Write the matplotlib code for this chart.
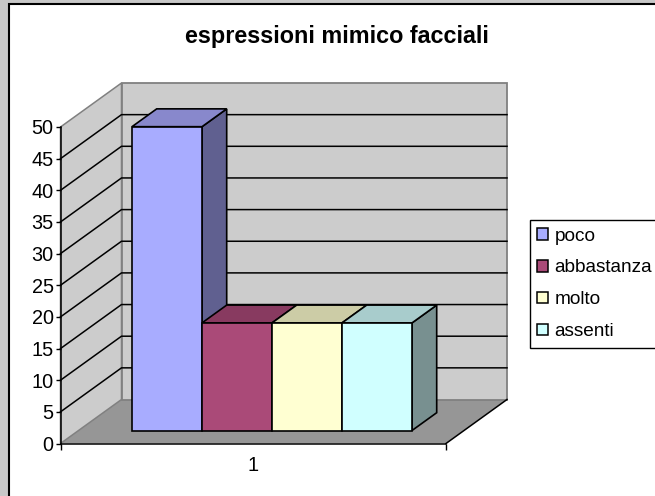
#!/usr/bin/python3
# 3D-look clustered column chart drawn on a plain 2D axes with a small oblique projection

import matplotlib
matplotlib.use('agg')
import matplotlib.pyplot as plt
from matplotlib.patches import Patch, Polygon, Rectangle

plt.rcParams['font.family'] = ['Liberation Sans', 'DejaVu Sans']

title = 'espressioni mimico facciali'
series = ['poco', 'abbastanza', 'molto', 'assenti']
values = [48, 17, 17, 17]
yticks = list(range(0, 55, 5))

front = ['#a8acff', '#aa4a78', '#ffffd2', '#d0ffff']
top = ['#8888cc', '#883a60', '#cccca6', '#a8cccc']
side = ['#606090', '#6a2e4a', '#90907a', '#789090']

W, H = 655, 496
# front plane of the plot box, in pixels
X0, X1, Y0, Y1 = 60.5, 446, 443.5, 127
# shift of the back wall, in data units (1 category wide, 50 units tall)
DX = 61 / (X1 - X0)
DY = 44 / ((Y0 - Y1) / 50)


def proj(x, y, d):
    return (x + d * DX, y + d * DY)


fig = plt.figure(figsize=(W / 100, H / 100), dpi=100, facecolor='white')

# window frame around the chart area
for box in [(0, 0, 8, H), (0, H - 4, W, 4)]:
    fig.patches.append(Rectangle((box[0], box[1]), box[2], box[3], transform=None,
                                 fc='#c8c8c8', ec='none', zorder=-2))
fig.patches.append(Rectangle((8.5, -10), W + 20, H - 4 + 10, transform=None,
                             fc='white', ec='black', lw=1.5, zorder=-1))

ax = fig.add_axes([X0 / W, 1 - Y0 / H, (X1 - X0) / W, (Y0 - Y1) / H])
ax.patch.set_visible(False)
ax.set_xlim(0.5, 1.5)
ax.set_ylim(0, 50)
for name in ['top', 'right']:
    ax.spines[name].set_visible(False)
for name in ['left', 'bottom']:
    ax.spines[name].set_linewidth(1.1)
    ax.spines[name].set_zorder(3)

WALL = '#cccccc'
FLOOR = '#969696'
EDGE = '#808080'


def face(pts, fc, ec='black', lw=1.1, z=2):
    ax.add_patch(Polygon(pts, closed=True, fc=fc, ec=ec, lw=lw, zorder=z,
                         clip_on=False, joinstyle='miter'))


# floor and the two walls
face([proj(0.5, 0, 0), proj(1.5, 0, 0), proj(1.5, 0, 1), proj(0.5, 0, 1)], FLOOR, 'none', 0, 1)
face([proj(0.5, 0, 0), proj(0.5, 0, 1), proj(0.5, 50, 1), proj(0.5, 50, 0)], WALL, EDGE, 1.1, 1)
face([proj(0.5, 0, 1), proj(1.5, 0, 1), proj(1.5, 50, 1), proj(0.5, 50, 1)], WALL, EDGE, 1.3, 1)

# gridlines run along the side wall and across the back wall
for v in yticks[1:-1]:
    xs, ys = zip(proj(0.5, v, 0), proj(0.5, v, 1), proj(1.5, v, 1))
    ax.plot(xs, ys, color='black', lw=1.1, zorder=1.5, clip_on=False)

# right edge of the floor
xs, ys = zip(proj(1.5, 0, 0), proj(1.5, 0, 1))
ax.plot(xs, ys, color='black', lw=1.1, zorder=1.5, clip_on=False)

# columns
bar_w = 70 / (X1 - X0)
bar_x0 = 0.5 + 53.5 / (X1 - X0)
d0, d1 = 0.295, 0.70
for i, v in enumerate(values):
    xl = bar_x0 + i * bar_w + d0 * DX
    xr = xl + bar_w
    base = d0 * DY
    rise = (d1 - d0) * DY
    run = (d1 - d0) * DX
    ax.bar(xl, v, bar_w, bottom=base, align='edge', color=front[i], edgecolor='black',
           linewidth=1.2, zorder=2.5, clip_on=False)
    face([(xl, base + v), (xr, base + v), (xr + run, base + v + rise), (xl + run, base + v + rise)],
         top[i], lw=1.2, z=2.4)
    face([(xr, base), (xr, base + v), (xr + run, base + v + rise), (xr + run, base + rise)],
         side[i], lw=1.2, z=2.3 - 0.01 * (len(values) - i))

ax.set_yticks(yticks)
ax.tick_params(axis='y', length=3.5, width=1, pad=1.5, labelsize=14.3)
ax.set_xticks([0.5, 1.5], ['', ''])
ax.set_xticks([1.0], ['1'], minor=True)
ax.tick_params(axis='x', which='major', length=4.5, width=1)
ax.tick_params(axis='x', which='minor', length=0, pad=9, labelsize=14.3)

fig.text(337 / W, 1 - 36.5 / H, title, ha='center', va='center', fontsize=16.8,
         fontweight='bold', color='black')

handles = [Patch(fc=front[i], ec='black', lw=1.1, label=series[i]) for i in range(len(series))]
fig.legend(handles=handles, loc='upper left', bbox_to_anchor=(529.5 / W, 1 - 220 / H),
           fontsize=13.7, frameon=True, fancybox=False, framealpha=1, edgecolor='black',
           borderpad=0.4, handlelength=0.58, handleheight=0.58, handletextpad=0.33,
           labelspacing=0.78, borderaxespad=0)

fig.savefig('out.png', dpi=100, facecolor=fig.get_facecolor())
